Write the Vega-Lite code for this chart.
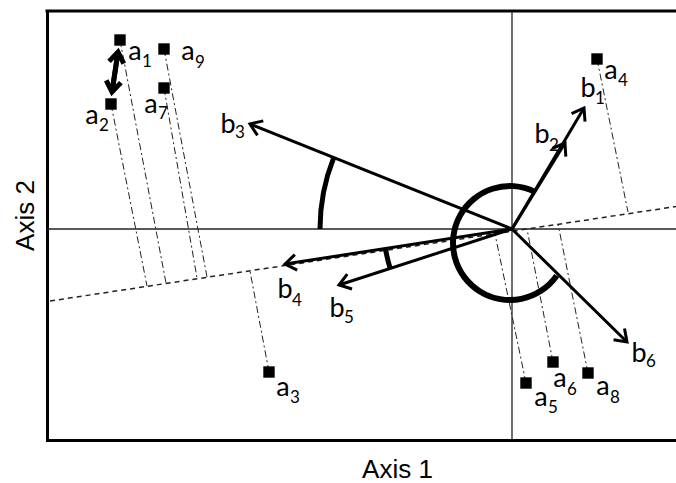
{
  "$schema": "https://vega.github.io/schema/vega-lite/v6.json",
  "width": 629,
  "height": 429,
  "autosize": {"type": "none"},
  "padding": {"left": 47, "top": 11, "right": 0, "bottom": 43},
  "config": {
    "view": {"stroke": null},
    "axis": {
      "labels": false, "ticks": false, "grid": false,
      "domainColor": "#000", "domainWidth": 3, "domainCap": "square",
      "titleFont": "Liberation Sans", "titleFontSize": 26, "titleFontWeight": "normal",
      "titleColor": "#000", "titleAlign": "center", "titleBaseline": "alphabetic"
    },
    "axisX": {"titleX": 350, "titleY": 37},
    "axisY": {"titleX": -14, "titleY": 204, "titleAngle": -90}
  },
  "datasets": {
    "frameTop": [{"y": 218}],
    "hAxis": [{"y": 0}],
    "vAxis": [{"x": 0}],
    "dashLine": [{"x": -462, "y": -72, "x2": 164, "y2": 22.5}],
    "points": [
      {"name": "a1", "x": -392, "y": 189, "fx": -346, "fy": -54},
      {"name": "a2", "x": -401, "y": 125, "fx": -365, "fy": -57},
      {"name": "a3", "x": -243, "y": -143, "fx": -262, "fy": -42},
      {"name": "a4", "x": 85, "y": 170, "fx": 116, "fy": 17},
      {"name": "a5", "x": 14, "y": -154, "fx": -17, "fy": -5},
      {"name": "a6", "x": 41, "y": -133, "fx": 15, "fy": 0},
      {"name": "a7", "x": -348, "y": 141, "fx": -315, "fy": -49},
      {"name": "a8", "x": 76, "y": -144, "fx": 46, "fy": 5},
      {"name": "a9", "x": -348, "y": 180, "fx": -305, "fy": -48}
    ],
    "vectors": [
      {"name": "b1", "kind": "vector", "x0": 0, "y0": 0, "x": 72, "y": 121},
      {"name": "b2", "kind": "vector", "x0": 0, "y0": 0, "x": 53, "y": 86},
      {"name": "b3", "kind": "vector", "x0": 0, "y0": 0, "x": -262, "y": 105},
      {"name": "b4", "kind": "vector", "x0": 0, "y0": 0, "x": -227, "y": -35},
      {"name": "b5", "kind": "vector", "x0": 0, "y0": 0, "x": -173, "y": -56},
      {"name": "b6", "kind": "vector", "x0": 0, "y0": 0, "x": 115, "y": -113},
      {"name": "d", "kind": "double", "x0": -400, "y0": 137, "x": -394, "y": 177},
      {"name": "d", "kind": "double", "x0": -394, "y0": 177, "x": -400, "y": 137}
    ],
    "arcs": [
      {"name": "big", "cx": -2, "cy": -14, "t1": 2.18, "t2": 6.73},
      {"name": "b3", "cx": 0, "cy": 0, "t1": 4.712, "t2": 5.093},
      {"name": "b45", "cx": 0, "cy": 0, "t1": 4.399, "t2": 4.559}
    ],
    "labels": [
      {"letter": "a", "sub": "1", "lx": -377, "ly": 169, "sx": -365, "sy": 162},
      {"letter": "a", "sub": "9", "lx": -324, "ly": 169, "sx": -312, "sy": 161},
      {"letter": "a", "sub": "7", "lx": -361, "ly": 116, "sx": -349, "sy": 110},
      {"letter": "a", "sub": "2", "lx": -420, "ly": 105, "sx": -408, "sy": 98},
      {"letter": "b", "sub": "3", "lx": -284, "ly": 96.5, "sx": -272, "sy": 91},
      {"letter": "a", "sub": "4", "lx": 99, "ly": 150, "sx": 111, "sy": 143},
      {"letter": "b", "sub": "1", "lx": 76, "ly": 132.5, "sx": 88, "sy": 125},
      {"letter": "b", "sub": "2", "lx": 30, "ly": 86.5, "sx": 42, "sy": 78},
      {"letter": "a", "sub": "5", "lx": 29, "ly": -177, "sx": 41, "sy": -184},
      {"letter": "a", "sub": "6", "lx": 48, "ly": -158, "sx": 60, "sy": -166},
      {"letter": "a", "sub": "8", "lx": 91, "ly": -166, "sx": 103, "sy": -174},
      {"letter": "b", "sub": "6", "lx": 127, "ly": -133, "sx": 139, "sy": -138},
      {"letter": "a", "sub": "3", "lx": -229, "ly": -167, "sx": -217, "sy": -174},
      {"letter": "b", "sub": "4", "lx": -227, "ly": -68.5, "sx": -215, "sy": -77},
      {"letter": "b", "sub": "5", "lx": -175, "ly": -87.5, "sx": -163, "sy": -94}
    ]
  },
  "layer": [
    {
      "data": {"name": "frameTop"},
      "mark": {"type": "rule", "strokeWidth": 3, "color": "#000", "strokeCap": "square"},
      "encoding": {
        "y": {"field": "y", "type": "quantitative", "scale": {"domain": [-211, 218], "nice": false, "zero": false}, "title": "Axis 2"}
      }
    },
    {
      "data": {"name": "hAxis"},
      "mark": {"type": "rule", "strokeWidth": 1.3, "color": "#222"},
      "encoding": {
        "y": {"field": "y", "type": "quantitative", "scale": {"domain": [-211, 218], "nice": false, "zero": false}, "title": "Axis 2"}
      }
    },
    {
      "data": {"name": "vAxis"},
      "mark": {"type": "rule", "strokeWidth": 1.3, "color": "#222"},
      "encoding": {
        "x": {"field": "x", "type": "quantitative", "scale": {"domain": [-465, 164], "nice": false, "zero": false}, "title": "Axis 1"}
      }
    },
    {
      "data": {"name": "dashLine"},
      "mark": {"type": "rule", "strokeWidth": 1.5, "color": "#222", "strokeDash": [5, 4]},
      "encoding": {
        "x": {"field": "x", "type": "quantitative", "scale": {"domain": [-465, 164], "nice": false, "zero": false}, "title": "Axis 1"},
        "y": {"field": "y", "type": "quantitative", "scale": {"domain": [-211, 218], "nice": false, "zero": false}, "title": "Axis 2"},
        "x2": {"field": "x2"},
        "y2": {"field": "y2"}
      }
    },
    {
      "data": {"name": "points"},
      "mark": {"type": "rule", "strokeWidth": 1, "color": "#222", "strokeDash": [7, 3, 2, 3]},
      "encoding": {
        "x": {"field": "x", "type": "quantitative", "scale": {"domain": [-465, 164], "nice": false, "zero": false}, "title": "Axis 1"},
        "y": {"field": "y", "type": "quantitative", "scale": {"domain": [-211, 218], "nice": false, "zero": false}, "title": "Axis 2"},
        "x2": {"field": "fx"},
        "y2": {"field": "fy"}
      }
    },
    {
      "data": {"name": "arcs"},
      "transform": [{"filter": "datum.name === 'big'"}],
      "mark": {"type": "arc", "radius": 60, "radius2": 54, "color": "#000"},
      "encoding": {
        "x": {"field": "cx", "type": "quantitative", "scale": {"domain": [-465, 164], "nice": false, "zero": false}, "title": "Axis 1"},
        "y": {"field": "cy", "type": "quantitative", "scale": {"domain": [-211, 218], "nice": false, "zero": false}, "title": "Axis 2"},
        "theta": {"field": "t1", "type": "quantitative", "scale": null},
        "theta2": {"field": "t2"}
      }
    },
    {
      "data": {"name": "arcs"},
      "transform": [{"filter": "datum.name === 'b3'"}],
      "mark": {"type": "arc", "radius": 194.5, "radius2": 189.5, "color": "#000"},
      "encoding": {
        "x": {"field": "cx", "type": "quantitative", "scale": {"domain": [-465, 164], "nice": false, "zero": false}, "title": "Axis 1"},
        "y": {"field": "cy", "type": "quantitative", "scale": {"domain": [-211, 218], "nice": false, "zero": false}, "title": "Axis 2"},
        "theta": {"field": "t1", "type": "quantitative", "scale": null},
        "theta2": {"field": "t2"}
      }
    },
    {
      "data": {"name": "arcs"},
      "transform": [{"filter": "datum.name === 'b45'"}],
      "mark": {"type": "arc", "radius": 130.5, "radius2": 125.5, "color": "#000"},
      "encoding": {
        "x": {"field": "cx", "type": "quantitative", "scale": {"domain": [-465, 164], "nice": false, "zero": false}, "title": "Axis 1"},
        "y": {"field": "cy", "type": "quantitative", "scale": {"domain": [-211, 218], "nice": false, "zero": false}, "title": "Axis 2"},
        "theta": {"field": "t1", "type": "quantitative", "scale": null},
        "theta2": {"field": "t2"}
      }
    },
    {
      "data": {"name": "vectors"},
      "transform": [{"filter": "datum.kind === 'vector'"}],
      "mark": {"type": "rule", "strokeWidth": 3, "color": "#000"},
      "encoding": {
        "x": {"field": "x0", "type": "quantitative", "scale": {"domain": [-465, 164], "nice": false, "zero": false}, "title": "Axis 1"},
        "y": {"field": "y0", "type": "quantitative", "scale": {"domain": [-211, 218], "nice": false, "zero": false}, "title": "Axis 2"},
        "x2": {"field": "x"},
        "y2": {"field": "y"}
      }
    },
    {
      "data": {"name": "vectors"},
      "transform": [{"filter": "datum.kind === 'double'"}],
      "mark": {"type": "rule", "strokeWidth": 5, "color": "#000"},
      "encoding": {
        "x": {"field": "x0", "type": "quantitative", "scale": {"domain": [-465, 164], "nice": false, "zero": false}, "title": "Axis 1"},
        "y": {"field": "y0", "type": "quantitative", "scale": {"domain": [-211, 218], "nice": false, "zero": false}, "title": "Axis 2"},
        "x2": {"field": "x"},
        "y2": {"field": "y"}
      }
    },
    {
      "data": {"name": "vectors"},
      "transform": [
        {"filter": "datum.kind === 'vector'"},
        {"calculate": "atan2(datum.x - datum.x0, datum.y - datum.y0) * 180 / PI", "as": "angle"}
      ],
      "mark": {"type": "point", "shape": "M-0.7,1L0,0L0.7,1", "filled": false, "strokeWidth": 3, "size": 500, "color": "#000", "opacity": 1, "strokeJoin": "miter"},
      "encoding": {
        "x": {"field": "x", "type": "quantitative", "scale": {"domain": [-465, 164], "nice": false, "zero": false}, "title": "Axis 1"},
        "y": {"field": "y", "type": "quantitative", "scale": {"domain": [-211, 218], "nice": false, "zero": false}, "title": "Axis 2"},
        "angle": {"field": "angle", "type": "quantitative", "scale": null}
      }
    },
    {
      "data": {"name": "vectors"},
      "transform": [
        {"filter": "datum.kind === 'double'"},
        {"calculate": "atan2(datum.x - datum.x0, datum.y - datum.y0) * 180 / PI", "as": "angle"}
      ],
      "mark": {"type": "point", "shape": "M-0.7,1L0,0L0.7,1", "filled": false, "strokeWidth": 5, "size": 450, "color": "#000", "opacity": 1, "strokeJoin": "miter"},
      "encoding": {
        "x": {"field": "x", "type": "quantitative", "scale": {"domain": [-465, 164], "nice": false, "zero": false}, "title": "Axis 1"},
        "y": {"field": "y", "type": "quantitative", "scale": {"domain": [-211, 218], "nice": false, "zero": false}, "title": "Axis 2"},
        "angle": {"field": "angle", "type": "quantitative", "scale": null}
      }
    },
    {
      "data": {"name": "points"},
      "mark": {"type": "square", "size": 130, "color": "#000", "opacity": 1},
      "encoding": {
        "x": {"field": "x", "type": "quantitative", "scale": {"domain": [-465, 164], "nice": false, "zero": false}, "title": "Axis 1"},
        "y": {"field": "y", "type": "quantitative", "scale": {"domain": [-211, 218], "nice": false, "zero": false}, "title": "Axis 2"}
      }
    },
    {
      "data": {"name": "labels"},
      "mark": {"type": "text", "font": "Lato", "fontSize": 27, "color": "#000", "align": "center", "baseline": "alphabetic"},
      "encoding": {
        "x": {"field": "lx", "type": "quantitative", "scale": {"domain": [-465, 164], "nice": false, "zero": false}, "title": "Axis 1"},
        "y": {"field": "ly", "type": "quantitative", "scale": {"domain": [-211, 218], "nice": false, "zero": false}, "title": "Axis 2"},
        "text": {"field": "letter"}
      }
    },
    {
      "data": {"name": "labels"},
      "mark": {"type": "text", "font": "Lato", "fontSize": 17, "color": "#000", "align": "center", "baseline": "alphabetic"},
      "encoding": {
        "x": {"field": "sx", "type": "quantitative", "scale": {"domain": [-465, 164], "nice": false, "zero": false}, "title": "Axis 1"},
        "y": {"field": "sy", "type": "quantitative", "scale": {"domain": [-211, 218], "nice": false, "zero": false}, "title": "Axis 2"},
        "text": {"field": "sub"}
      }
    }
  ]
}
